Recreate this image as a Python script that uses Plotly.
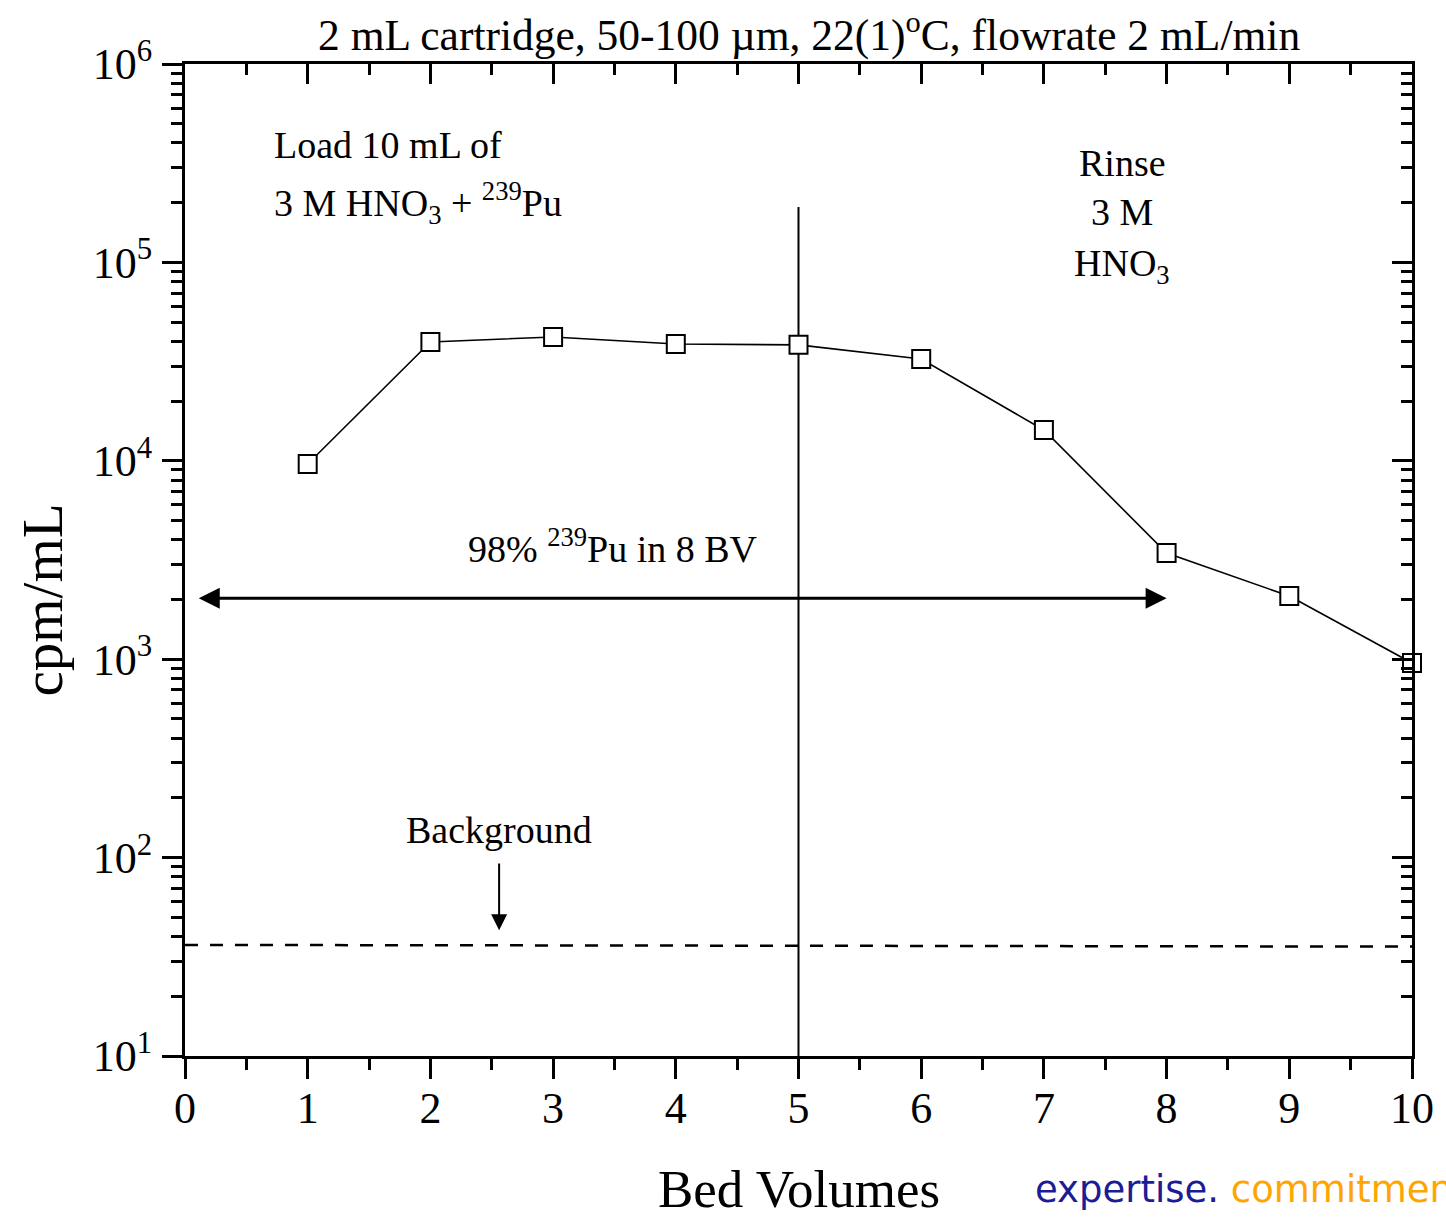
import numpy as np
import plotly.graph_objects as go

# ---------------- data ----------------
bed_volumes = [1, 2, 3, 4, 5, 6, 7, 8, 9, 10]
cpm_per_ml = [9640, 39700, 42100, 38800, 38400, 32600, 14300, 3430, 2080, 957]

background_x = [0, 10]
background_y = [36.3, 35.6]

divider_x = [5, 5]
divider_y = [10, 190000]

arrow_span_x = [0.1, 8.0]
arrow_span_y = 2030

bg_arrow_x = 2.56
bg_arrow_y = [95, 43]

x_ticks = list(range(0, 11))
x_minor = [i + 0.5 for i in range(0, 10)]
y_ticks = [10, 100, 1000, 10000, 100000, 1000000]
y_ticktext = ["10<sup>1</sup>", "10<sup>2</sup>", "10<sup>3</sup>",
              "10<sup>4</sup>", "10<sup>5</sup>", "10<sup>6</sup>"]
y_minor = [m * 10 ** e for e in range(1, 6) for m in range(2, 10)]

title_text = "2 mL cartridge, 50-100 \u00b5m, 22(1)<sup>o</sup>C, flowrate 2 mL/min"

# ---------------- layout helpers ----------------
W, H = 1446, 1220
L, R, T, B = 185, 1417, 64, 1056
FONT = "Liberation Serif"


def px(x):
    return (x - L) / (R - L)


def py(y):
    return (B - y) / (B - T)


fig = go.Figure()

# background dashed line
fig.add_trace(go.Scatter(x=background_x, y=background_y, mode="lines",
                         line=dict(color="black", width=2.5, dash="13px,12px"),
                         showlegend=False, hoverinfo="skip"))
# vertical divider
fig.add_trace(go.Scatter(x=divider_x, y=divider_y, mode="lines",
                         line=dict(color="black", width=2),
                         showlegend=False, hoverinfo="skip"))
# data
fig.add_trace(go.Scatter(x=bed_volumes, y=cpm_per_ml, mode="lines+markers",
                         line=dict(color="black", width=1.6),
                         marker=dict(symbol="square", size=18, color="white",
                                     line=dict(color="black", width=2)),
                         showlegend=False, cliponaxis=False))
# helper traces for mirrored axes
fig.add_trace(go.Scatter(x=[None], y=[None], xaxis="x2", yaxis="y",
                         showlegend=False, hoverinfo="skip"))
fig.add_trace(go.Scatter(x=[None], y=[None], xaxis="x", yaxis="y2",
                         showlegend=False, hoverinfo="skip"))

tickfont = dict(family=FONT, size=44, color="black")

fig.update_layout(
    width=W, height=H, autosize=False,
    margin=dict(l=L, r=W - R, t=T, b=H - B, pad=0),
    paper_bgcolor="white", plot_bgcolor="white",
    showlegend=False,
    xaxis=dict(range=[0, 10], tickvals=x_ticks, ticks="outside", ticklen=20,
               tickwidth=3, tickcolor="black", showline=True, linewidth=3,
               linecolor="black", showgrid=False, zeroline=False,
               tickfont=tickfont, ticklabelstandoff=-9,
               minor=dict(tickvals=x_minor, ticks="outside", ticklen=11,
                          tickwidth=3, tickcolor="black", showgrid=False)),
    xaxis2=dict(range=[0, 10], overlaying="x", side="top", anchor="y",
                tickvals=x_ticks, ticks="inside", ticklen=20, tickwidth=3,
                tickcolor="black", showline=True, linewidth=3, linecolor="black",
                showgrid=False, zeroline=False, showticklabels=False,
                minor=dict(tickvals=x_minor, ticks="inside", ticklen=11,
                           tickwidth=3, tickcolor="black", showgrid=False)),
    yaxis=dict(type="log", range=[1, 6], tickvals=y_ticks, ticktext=y_ticktext,
               ticks="outside", ticklen=20, tickwidth=3, tickcolor="black",
               showline=True, linewidth=3, linecolor="black", showgrid=False,
               zeroline=False, tickfont=tickfont, ticklabelstandoff=1,
               minor=dict(tickvals=y_minor, ticks="outside", ticklen=11,
                          tickwidth=3, tickcolor="black", showgrid=False)),
    yaxis2=dict(type="log", range=[1, 6], overlaying="y", side="right", anchor="x",
                tickvals=y_ticks, ticks="inside", ticklen=20, tickwidth=3,
                tickcolor="black", showline=True, linewidth=3, linecolor="black",
                showgrid=False, zeroline=False, showticklabels=False,
                minor=dict(tickvals=y_minor, ticks="inside", ticklen=11,
                           tickwidth=3, tickcolor="black", showgrid=False)),
)

ann = []


def text(t, x, y, size=38, xanchor="center", yanchor="middle", **kw):
    ann.append(dict(text=t, xref="paper", yref="paper", x=px(x), y=py(y),
                    xanchor=xanchor, yanchor=yanchor, showarrow=False,
                    font=dict(family=FONT, size=size, color="black"), **kw))


# title and axis titles
text(title_text, 812, 32, size=43.5)
text("Bed Volumes", 801, 1189, size=53)
text("cpm/mL", 41, 600, size=57, textangle=-90)

# in-plot annotations
text("Load 10 mL of", 272, 145, xanchor="left")
text("3 M HNO<sub>3</sub> + <sup>239</sup>Pu", 272, 203, xanchor="left")
text("Rinse", 1126, 163)
text("3 M", 1126, 212)
text("HNO<sub>3</sub>", 1126, 266)
text("98% <sup>239</sup>Pu in 8 BV", 615, 546)
text("Background", 500, 830)

# double arrow across load region
ann.append(dict(x=arrow_span_x[1], y=np.log10(arrow_span_y), xref="x", yref="y",
                ax=arrow_span_x[0], ay=np.log10(arrow_span_y), axref="x", ayref="y",
                text="", showarrow=True, arrowhead=2, startarrowhead=2,
                arrowside="end+start", arrowsize=1.4, startarrowsize=1.4,
                arrowwidth=3, arrowcolor="black"))
# background arrow
ann.append(dict(x=bg_arrow_x, y=np.log10(bg_arrow_y[1]), xref="x", yref="y",
                ax=bg_arrow_x, ay=np.log10(bg_arrow_y[0]), axref="x", ayref="y",
                text="", showarrow=True, arrowhead=2, arrowsize=1.6,
                arrowwidth=2, arrowcolor="black"))

# watermark
ann.append(dict(text="<span style='color:#1c1c94'>expertise.</span> "
                     "<span style='color:#ffa500'>commitment</span>",
                xref="paper", yref="paper", x=px(1036), y=py(1189),
                xanchor="left", yanchor="middle", showarrow=False,
                font=dict(family="DejaVu Sans", size=37)))

fig.update_layout(annotations=ann)

fig.write_html("out.html")
